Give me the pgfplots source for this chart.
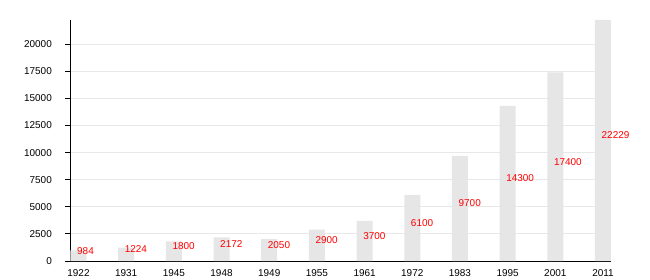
\documentclass[border=0pt]{standalone}
\usepackage{pgfplots}
\pgfplotsset{compat=1.18}
\usepackage{pgfplotstable}
\usepackage{fontspec}
\setmainfont{Liberation Sans}
\definecolor{barc}{HTML}{E6E6E6}
\definecolor{gridc}{HTML}{E8E8E8}
\definecolor{lblc}{HTML}{FF0000}
\pgfplotstableread{
x y
0 984
1 1224
2 1800
3 2172
4 2050
5 2900
6 3700
7 6100
8 9700
9 14300
10 17400
11 22229
}\datatable
\begin{document}
\begin{tikzpicture}
\useasboundingbox (0,0) rectangle (650bp,280bp);
\begin{axis}[
  at={(70bp,19bp)}, anchor=south west,
  scale only axis, width=541bp, height=241bp,
  xmin=-0.178, xmax=11.168,
  ymin=0, ymax=22229,
  axis lines*=left,
  axis line style={-, line width=1bp, black},
  xtick=data,
  xticklabels={1922,1931,1945,1948,1949,1955,1961,1972,1983,1995,2001,2011},
  ytick={0,2500,5000,7500,10000,12500,15000,17500,20000},
  scaled y ticks=false,
  /pgf/number format/.cd, 1000 sep={}, assume math mode=true, /pgfplots/.cd,
  tick label style={font=\fontsize{10}{12}\selectfont, black},
  yticklabel style={inner sep=0pt, anchor=east, xshift=-13bp},
  xticklabel style={inner sep=0pt, anchor=north, yshift=-3bp},
  x tick style={draw=none},
  y tick style={line width=1bp, black},
  tick align=outside,
  major tick length=5bp,
  ymajorgrids,
  grid style={gridc, line width=1bp},
  clip=false,
]
\addplot[ybar, bar width=16bp, fill=barc, draw=none] table[x=x, y=y] {\datatable};
\addplot[only marks, mark=none, draw=none,
  nodes near coords, point meta=explicit symbolic,
  every node near coord/.style={anchor=west, inner sep=0pt, xshift=-1.5bp, yshift=5bp, text=lblc, font=\fontsize{10}{12}\selectfont}]
  table[x=x, y expr=\thisrow{y}/2, meta=y] {\datatable};
\end{axis}
\end{tikzpicture}
\end{document}
